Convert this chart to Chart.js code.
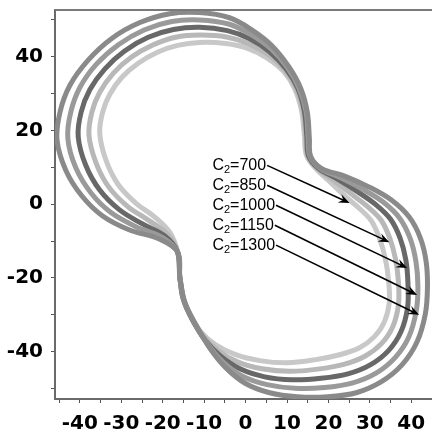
<!DOCTYPE html>
<html>
<head>
<meta charset="utf-8">
<script src="https://cdn.jsdelivr.net/npm/chart.js@4.4.1/dist/chart.umd.min.js"></script>
<style>
  html, body { margin: 0; padding: 0; background: #fff; }
  #wrap { width: 432px; height: 429px; }
</style>
</head>
<body>
<div id="wrap"><canvas id="c" width="432" height="429"></canvas></div>
<script>
// curve values (x, y), one closed contour per C2
const c1300X = [-45.5,-44.8,-42.4,-38.1,-32.3,-25.5,-18.3,-11.1,-3.9,1.4,6.3,10.4,13.3,14.9,15.4,15.7,18.3,23.9,29.9,35.2,39.5,42.2,43.6,43.9,43.4,41.4,37.8,32.8,26.7,19.8,12.5,5.8,0,-4.8,-8.7,-12.0,-14.7,-15.9,-16.4,-20.7,-28.0,-34.5,-39.5,-43.4];
const c1300Y = [17.3,24.9,32.2,38.9,44.9,49.2,51.6,51.9,50.5,47.3,43.0,37.3,31.4,24.9,17.8,13.0,9.7,7.6,4.6,1.1,-3.5,-9.2,-15.7,-22.7,-29.7,-37.3,-43.5,-48.1,-51.1,-52.2,-52.2,-51.1,-48.6,-44.3,-38.9,-32.7,-26.5,-19.7,-13.0,-9.5,-7.0,-3.2,2.2,9.2];

const c1150X = [-42.9,-42.2,-40.0,-36.1,-30.7,-24.5,-17.8,-11.1,-4.1,1.2,6.1,10.1,12.9,14.6,15.1,15.5,18.0,23.1,28.5,33.3,37.2,39.7,41.1,41.6,41.2,39.4,36.1,31.5,25.7,19.0,11.9,5.2,-0.6,-5.4,-9.2,-12.4,-14.8,-15.9,-16.4,-20.1,-26.5,-32.5,-37.3,-41.0];
const c1150Y = [17.8,24.9,31.6,37.8,43.2,47.2,49.5,49.9,48.8,46.0,42.1,37.0,31.4,25.0,18.0,13.1,9.7,7.1,3.9,0.5,-3.8,-9.2,-15.4,-22.2,-28.9,-36.0,-41.6,-45.8,-48.5,-49.7,-49.9,-48.9,-46.7,-42.8,-37.8,-32.0,-26.2,-19.7,-13.0,-9.0,-6.1,-2.3,3.0,9.9];

const c1000X = [-40.4,-39.7,-37.6,-34.0,-29.2,-23.5,-17.4,-11.1,-4.4,1.0,5.8,9.8,12.6,14.2,14.8,15.2,17.6,22.3,27.1,31.5,35.0,37.3,38.7,39.2,39.1,37.5,34.5,30.2,24.7,18.2,11.2,4.6,-1.2,-6.0,-9.8,-12.8,-15.0,-15.9,-16.4,-19.5,-25.0,-30.5,-35.2,-38.6];
const c1000Y = [18.3,24.9,31.0,36.6,41.5,45.2,47.3,47.9,47.0,44.8,41.3,36.6,31.4,25.2,18.2,13.1,9.7,6.7,3.3,-0.2,-4.1,-9.2,-15.2,-21.6,-28.1,-34.6,-39.7,-43.5,-46.0,-47.2,-47.6,-46.8,-44.7,-41.2,-36.8,-31.4,-25.8,-19.7,-13.0,-8.6,-5.3,-1.5,3.8,10.6];

const c850X = [-37.8,-37.1,-35.2,-31.9,-27.6,-22.4,-16.9,-11.1,-4.6,0.7,5.6,9.5,12.2,13.9,14.5,15.0,17.3,21.5,25.7,29.6,32.7,34.8,36.2,36.9,36.9,35.5,32.8,28.8,23.7,17.4,10.6,4.0,-1.8,-6.6,-10.3,-13.1,-15.1,-15.9,-16.4,-18.9,-23.4,-28.5,-33.0,-36.1];
const c850Y = [18.7,24.9,30.3,35.5,39.8,43.1,45.2,45.8,45.3,43.5,40.4,36.3,31.4,25.3,18.4,13.2,9.7,6.2,2.6,-0.8,-4.3,-9.2,-14.9,-21.1,-27.3,-33.3,-37.8,-41.2,-43.4,-44.7,-45.3,-44.6,-42.8,-39.7,-35.7,-30.7,-25.5,-19.7,-13.0,-8.1,-4.4,-0.6,4.6,11.2];

const c700X = [-35.2,-34.5,-32.8,-29.9,-26.0,-21.4,-16.4,-11.1,-4.8,0.5,5.3,9.2,11.8,13.5,14.2,14.7,16.9,20.7,24.3,27.7,30.4,32.3,33.7,34.5,34.7,33.5,31.1,27.5,22.7,16.6,9.9,3.4,-2.4,-7.2,-10.8,-13.5,-15.2,-15.9,-16.4,-18.3,-21.9,-26.5,-30.8,-33.7];
const c700Y = [19.2,24.9,29.7,34.3,38.1,41.1,43.0,43.8,43.5,42.2,39.5,35.9,31.4,25.4,18.6,13.2,9.7,5.7,1.9,-1.4,-4.6,-9.2,-14.6,-20.5,-26.5,-31.9,-35.9,-38.9,-40.8,-42.2,-43.0,-42.4,-40.8,-38.1,-34.6,-30.0,-25.1,-19.7,-13.0,-7.6,-3.5,0.3,5.4,11.9];

// C2 labels and where their arrows point
const c2Values = [700, 850, 1000, 1150, 1300];
const arrowTipX = [25.1, 34.7, 39.0, 41.4, 41.9];
const arrowTipY = [0.3, -10.3, -17.3, -24.6, -30.0];

// axis ticks
const xTicks = [-45, -40, -35, -30, -25, -20, -15, -10, -5, 0, 5, 10, 15, 20, 25, 30, 35, 40, 45];
const xTickLabels = [-40, -30, -20, -10, 0, 10, 20, 30, 40];
const yTicks = [-50, -40, -30, -20, -10, 0, 10, 20, 30, 40, 50];
const yTickLabels = [-40, -20, 0, 20, 40];

// the contour is closed at the lower waist, where all curves meet,
// so the seam of the closed line is hidden
const SEAM = 37;

function loop(xs, ys) {
  const pts = xs.map(function (x, i) { return { x: x, y: ys[i] }; });
  const rot = pts.slice(SEAM).concat(pts.slice(0, SEAM));
  rot.push(rot[0]);
  return rot;
}

function curve(label, xs, ys, color) {
  return {
    label: label,
    data: loop(xs, ys),
    showLine: true,
    borderColor: color,
    borderWidth: 5,
    pointRadius: 0,
    tension: 0.35,
    fill: false
  };
}

// texts "C2=..." with arrows, drawn on top
const annotatePlugin = {
  id: 'annotate',
  afterDraw: function (chart) {
    const ctx = chart.ctx;
    const xs = chart.scales.x, ys = chart.scales.y;
    const area = chart.chartArea;

    // top frame line
    ctx.save();
    ctx.strokeStyle = '#7a7a7a';
    ctx.lineWidth = 2;
    ctx.beginPath();
    ctx.moveTo(area.left, area.top);
    ctx.lineTo(area.right, area.top);
    ctx.stroke();
    ctx.restore();

    const textLeft = xs.getPixelForValue(-8.0);
    const top = ys.getPixelForValue(10.5);
    const step = ys.getPixelForValue(5.1) - top;

    ctx.save();
    ctx.fillStyle = '#000';
    ctx.strokeStyle = '#000';
    ctx.textBaseline = 'middle';
    c2Values.forEach(function (v, i) {
      const ty = top + i * step;
      let tx = textLeft;
      ctx.font = '16px "Liberation Sans", Arial, sans-serif';
      ctx.fillText('C', tx, ty);
      tx += ctx.measureText('C').width;
      ctx.font = '11px "Liberation Sans", Arial, sans-serif';
      ctx.fillText('2', tx, ty + 5);
      tx += ctx.measureText('2').width;
      ctx.font = '16px "Liberation Sans", Arial, sans-serif';
      const rest = '=' + v;
      ctx.fillText(rest, tx, ty);
      tx += ctx.measureText(rest).width + 1;

      const ex = xs.getPixelForValue(arrowTipX[i]);
      const ey = ys.getPixelForValue(arrowTipY[i]);
      const ang = Math.atan2(ey - ty, ex - tx);
      const hl = 11, hw = 4.5;
      ctx.lineWidth = 1.6;
      ctx.beginPath();
      ctx.moveTo(tx, ty);
      ctx.lineTo(ex - Math.cos(ang) * 6, ey - Math.sin(ang) * 6);
      ctx.stroke();
      ctx.beginPath();
      ctx.moveTo(ex, ey);
      ctx.lineTo(ex - Math.cos(ang) * hl - Math.sin(ang) * hw, ey - Math.sin(ang) * hl + Math.cos(ang) * hw);
      ctx.lineTo(ex - Math.cos(ang) * 7, ey - Math.sin(ang) * 7);
      ctx.lineTo(ex - Math.cos(ang) * hl + Math.sin(ang) * hw, ey - Math.sin(ang) * hl - Math.cos(ang) * hw);
      ctx.closePath();
      ctx.fill();
    });
    ctx.restore();
  }
};

const tickFont = { family: '"DejaVu Sans", sans-serif', size: 20, weight: 'bold' };

new Chart(document.getElementById('c'), {
  type: 'scatter',
  data: {
    datasets: [
      curve('C2=1300', c1300X, c1300Y, '#8a8a8a'),
      curve('C2=1150', c1150X, c1150Y, '#9a9a9a'),
      curve('C2=1000', c1000X, c1000Y, '#686868'),
      curve('C2=850', c850X, c850Y, '#b8b8b8'),
      curve('C2=700', c700X, c700Y, '#c8c8c8')
    ]
  },
  options: {
    responsive: false,
    animation: false,
    devicePixelRatio: 1,
    layout: { padding: { top: 10, right: 0, left: 0, bottom: 0 } },
    plugins: {
      legend: { display: false },
      tooltip: { enabled: false }
    },
    scales: {
      x: {
        type: 'linear',
        min: -46,
        max: 45,
        afterBuildTicks: function (axis) {
          axis.ticks = xTicks.map(function (v) { return { value: v }; });
        },
        afterFit: function (axis) {
          axis.height = 30;
          axis.paddingLeft = 0;
          axis.paddingRight = 0;
        },
        border: { color: '#6a6a6a', width: 2 },
        grid: { drawOnChartArea: false, drawTicks: true, tickLength: 4, tickColor: '#555' },
        ticks: {
          color: '#000',
          font: tickFont,
          padding: 9,
          maxRotation: 0,
          autoSkip: false,
          callback: function (v) { return xTickLabels.indexOf(v) >= 0 ? String(v) : ''; }
        }
      },
      y: {
        type: 'linear',
        min: -52.8,
        max: 52.6,
        afterBuildTicks: function (axis) {
          axis.ticks = yTicks.map(function (v) { return { value: v }; });
        },
        afterFit: function (axis) {
          axis.width = 55;
          axis.paddingTop = 0;
          axis.paddingBottom = 0;
        },
        border: { color: '#6a6a6a', width: 2 },
        grid: { drawOnChartArea: false, drawTicks: true, tickLength: 4, tickColor: '#555' },
        ticks: {
          color: '#000',
          font: tickFont,
          padding: 8,
          autoSkip: false,
          callback: function (v) { return yTickLabels.indexOf(v) >= 0 ? String(v) : ''; }
        }
      }
    }
  },
  plugins: [annotatePlugin]
});
</script>
</body>
</html>
